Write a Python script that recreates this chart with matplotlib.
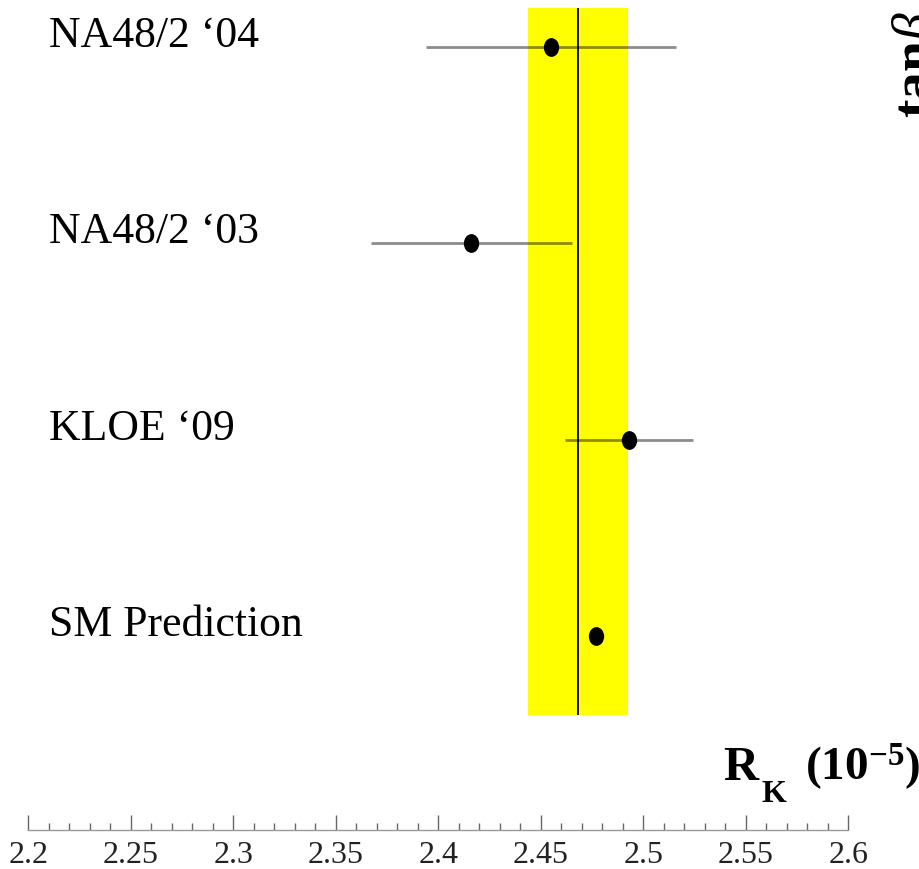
import matplotlib
matplotlib.use("Agg")
import matplotlib.pyplot as plt
from matplotlib.path import Path
from matplotlib.ticker import MultipleLocator
import numpy as np

plt.rcParams["font.family"] = ["Liberation Serif", "DejaVu Serif"]
plt.rcParams["mathtext.fontset"] = "custom"
plt.rcParams["mathtext.rm"] = "Liberation Serif"
plt.rcParams["mathtext.it"] = "Liberation Serif:italic"
plt.rcParams["mathtext.bf"] = "Liberation Serif:bold"

# R_K measurements (units of 1e-5), bottom row first
labels = ["SM Prediction", "KLOE \u201809", "NA48/2 \u201803", "NA48/2 \u201804"]
rk_values = [2.477, 2.493, 2.416, 2.455]
rk_errors = [0.0, 0.031, 0.049, 0.061]

# world average band
avg_value = 2.468
avg_error = 0.0245

rows = np.arange(len(labels))

fig = plt.figure(figsize=(9.2, 8.69), dpi=100)
ax = fig.add_axes([0.0308, 0.0449, 0.8913, 0.9551])

# yellow average band with central line
band_lo, band_hi = -0.402, 3.198
ax.fill_betweenx([band_lo, band_hi], avg_value - avg_error, avg_value + avg_error,
                 color="#ffff00", lw=0, zorder=1)
ax.vlines(avg_value, band_lo, band_hi, color="black", lw=1.3, zorder=2)

# horizontal error bars, drawn half-transparent
for y, v, e in zip(rows, rk_values, rk_errors):
    if e > 0:
        ax.hlines(y, v - e, v + e, color="black", alpha=0.45, lw=2.0, zorder=3)

# slightly tall elliptical dots
circ = Path.unit_circle()
dot = Path(circ.vertices * [0.8, 1.0], circ.codes)
ax.plot(rk_values, rows, ls="none", marker=dot, ms=12.5, color="black", zorder=4)

# row labels sit on the same baseline as the points
for y, lab in zip(rows, labels):
    ax.text(0.0252, y, lab, transform=ax.get_yaxis_transform(),
            fontsize=31.5, va="baseline", ha="left", color="black")

ax.set_xlim(2.2, 2.6)
ax.set_ylim(-0.988, 3.239)

for side in ["top", "left", "right"]:
    ax.spines[side].set_visible(False)
ax.spines["bottom"].set_color("#999999")
ax.spines["bottom"].set_linewidth(1.0)

ax.set_yticks([])
ax.xaxis.set_minor_locator(MultipleLocator(0.01))
ax.set_xticks(np.arange(2.2, 2.6001, 0.05))
ax.set_xticklabels(["2.2", "2.25", "2.3", "2.35", "2.4", "2.45", "2.5", "2.55", "2.6"])
ax.tick_params(axis="x", which="major", direction="in", length=11, width=1.0,
               color="#666666", labelsize=23, pad=8, labelcolor="#222222")
ax.tick_params(axis="x", which="minor", direction="in", length=5, width=1.0,
               color="#666666")

# axis title R_K (10^-5), subscript placed by hand
fig.text(723 / 920, 1 - 780 / 869, "R", fontsize=35, fontweight="bold",
         ha="left", va="baseline")
fig.text(761 / 920, 1 - 802 / 869, "K", fontsize=23, fontweight="bold",
         ha="left", va="baseline")
fig.text(805 / 920, 1 - 780 / 869, r"$\mathbf{(10^{-5})}$", fontsize=34,
         ha="left", va="baseline")

# side label, running off the right edge
fig.text(0.998, 0.864, r"tan$\beta$", fontsize=40, fontweight="bold",
         rotation=90, ha="center", va="bottom")

fig.savefig("out.png", dpi=100)
